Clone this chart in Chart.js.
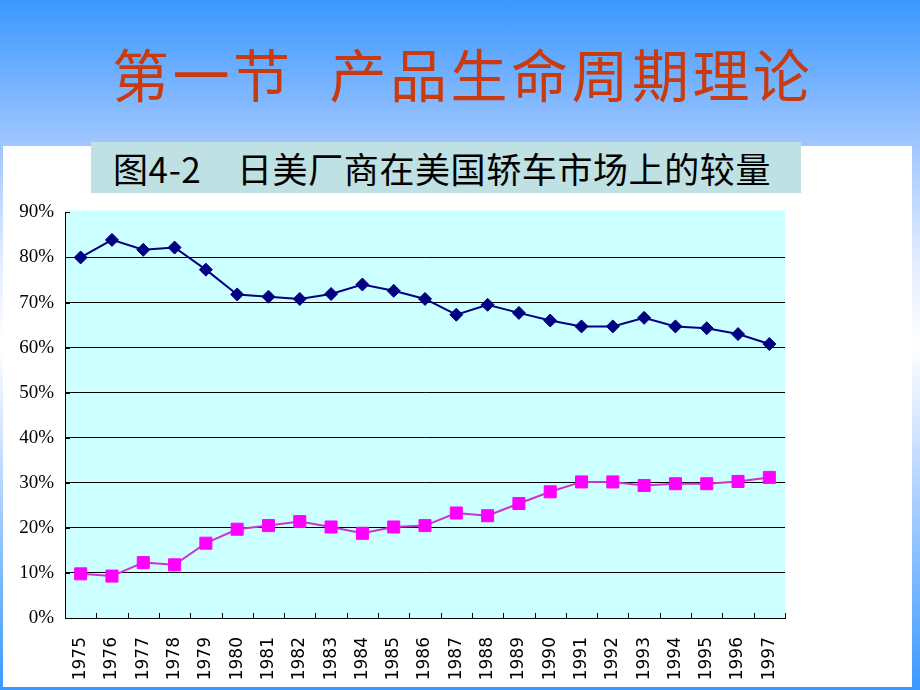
<!DOCTYPE html>
<html lang="zh">
  <head>
    <meta charset="UTF-8" />
    <title>日美厂商在美国轿车市场上的较量</title>
    <script src="https://cdn.jsdelivr.net/npm/chart.js"></script>
    <style>
      html, body { margin: 0; padding: 0; }
      body {
        width: 920px; height: 690px; overflow: hidden; position: relative;
        background: linear-gradient(to bottom, #3a98ff 0%, #9cc4ff 20%, #e4edff 38%, #ffffff 50%, #d6e5ff 62%, #3a98ff 100%);
      }
      .panel { position: absolute; left: 3px; top: 146px; width: 909px; height: 541px; background: #ffffff; }
      .titulo {
        position: absolute; left: 112px; top: 43px; height: 58px; line-height: 58px;
        font-family: "Noto Sans CJK SC"; font-size: 57px; color: #c93a0e; letter-spacing: 3.5px; white-space: nowrap;
      }
      .titulo span { display: inline-block; width: 36px; }
      .subtitulo {
        position: absolute; left: 91px; top: 142px; width: 688px; height: 51px; line-height: 51px;
        padding-left: 22px; background: #bfe1e3;
        font-family: "Noto Sans CJK SC"; font-size: 35px; color: #000; letter-spacing: 0.6px; white-space: nowrap;
      }
      #grafico { position: absolute; left: 0; top: 190px; }
    </style>
  </head>
<body>
    <div class="panel"></div>
    <div class="titulo">第一节<span></span>产品生命周期理论</div>
    <div class="subtitulo">图4-2　日美厂商在美国轿车市场上的较量</div>
    <canvas id="grafico" width="920" height="497"></canvas>

  <script>
    // dados (% do mercado)
    const anos = ['1975', '1976', '1977', '1978', '1979', '1980', '1981', '1982', '1983', '1984', '1985', '1986',
                  '1987', '1988', '1989', '1990', '1991', '1992', '1993', '1994', '1995', '1996', '1997'];
    const fatiaEUA = [80.0, 83.9, 81.7, 82.2, 77.3, 71.8, 71.3, 70.8, 71.9, 74.0, 72.6, 70.8,
                      67.3, 69.5, 67.7, 66.0, 64.7, 64.7, 66.6, 64.7, 64.3, 63.0, 60.8];
    const fatiaJapao = [9.8, 9.3, 12.3, 11.8, 16.6, 19.7, 20.5, 21.4, 20.2, 18.8, 20.2, 20.5,
                        23.3, 22.7, 25.4, 28.0, 30.2, 30.2, 29.4, 29.8, 29.8, 30.3, 31.2];
    const ticksY = [0, 10, 20, 30, 40, 50, 60, 70, 80, 90];

    // fundo da área do gráfico
    const fundoPlot = {
      id: 'fundoPlot',
      beforeDraw(chart) {
        const a = chart.chartArea, ctx = chart.ctx;
        ctx.save();
        ctx.fillStyle = '#ccffff';
        ctx.fillRect(a.left, a.top - 2, a.right - a.left, a.bottom - a.top + 2);
        ctx.restore();
      }
    };

    // marcas de escala para dentro (estilo Excel)
    const marcasDentro = {
      id: 'marcasDentro',
      afterDraw(chart) {
        const ctx = chart.ctx, x = chart.scales.x, y = chart.scales.y;
        ctx.save();
        ctx.strokeStyle = '#000';
        ctx.lineWidth = 1;
        ctx.beginPath();
        for (let i = 0; i <= anos.length; i++) {
          const px = Math.round(x.getPixelForValue(i - 0.5)) + 0.5;
          ctx.moveTo(px, y.bottom);
          ctx.lineTo(px, y.bottom - 5);
        }
        ticksY.forEach(function (v) {
          const py = Math.round(y.getPixelForValue(v)) + 0.5;
          ctx.moveTo(x.left, py);
          ctx.lineTo(x.left + 5, py);
        });
        ctx.stroke();
        ctx.restore();
      }
    };

    const config = {
      type: 'line',
      data: {
        labels: anos,
        datasets: [
          {
            label: '美国厂商',
            data: fatiaEUA,
            borderColor: '#000080',
            backgroundColor: '#000080',
            borderWidth: 2,
            pointStyle: 'rectRot',
            pointRadius: 6.5,
            pointBorderWidth: 1,
            tension: 0
          },
          {
            label: '日本厂商',
            data: fatiaJapao,
            borderColor: '#cc33cc',
            backgroundColor: '#ff00ff',
            pointBorderColor: '#ff00ff',
            borderWidth: 2,
            pointStyle: 'rect',
            pointRadius: 8.5,
            pointBorderWidth: 1,
            tension: 0
          }
        ]
      },
      options: {
        responsive: false,
        animation: false,
        devicePixelRatio: 1,
        layout: { padding: { top: 21, right: 135, left: 0, bottom: 0 }, autoPadding: false },
        plugins: { legend: { display: false }, tooltip: { enabled: false } },
        scales: {
          x: {
            offset: true,
            grid: { display: false, drawTicks: false },
            border: { display: true, color: '#000', width: 1 },
            ticks: {
              autoSkip: false, minRotation: 90, maxRotation: 90, padding: 19, color: '#000',
              font: { family: 'DejaVu Sans', size: 17 }
            },
            afterFit(scale) { scale.height = 69; }
          },
          y: {
            min: 0, max: 90,
            afterBuildTicks(scale) { scale.ticks = ticksY.map(v => ({ value: v })); },
            grid: {
              color: ctx => (ctx.tick && ctx.tick.value === 90 ? 'rgba(0,0,0,0)' : '#000'),
              lineWidth: 1, drawTicks: false
            },
            border: { display: true, color: '#000', width: 1 },
            ticks: {
              padding: 11, color: '#000',
              font: { family: 'Liberation Serif', size: 19 },
              callback: v => v + '%'
            },
            afterFit(scale) { scale.width = 65; }
          }
        }
      },
      plugins: [fundoPlot, marcasDentro]
    };

    var grafico = new Chart(document.getElementById('grafico'), config);
  </script>
</body>
</html>
